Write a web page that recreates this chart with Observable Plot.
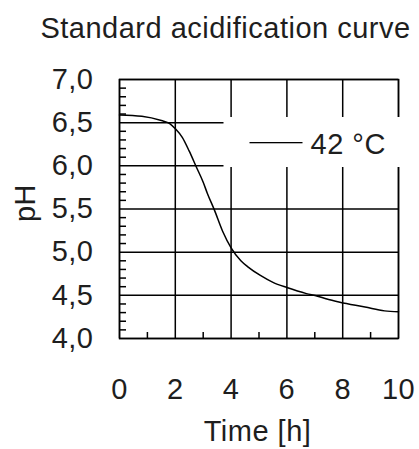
<!DOCTYPE html>
<html>
<head>
<meta charset="utf-8">
<script src="https://cdn.jsdelivr.net/npm/d3@7"></script>
<script src="https://cdn.jsdelivr.net/npm/@observablehq/plot@0.6"></script>
<style>
  html, body { margin: 0; padding: 0; background: #fff; }
</style>
</head>
<body>
<div id="chart"></div>
<script>
const title = "Standard acidification curve";
const xLabel = "Time [h]";
const yLabel = "pH";
const seriesLabel = "42 °C";

const time = [0, 0.8, 1.5, 1.8, 2.0, 2.25, 2.5, 2.75, 3.0, 3.15, 3.4, 3.7, 4.0, 4.35, 4.6, 5.05, 5.5, 6.0, 6.7, 7.1, 7.4, 7.9, 8.8, 9.5, 10];
const ph   = [6.59, 6.575, 6.525, 6.49, 6.43, 6.33, 6.17, 5.99, 5.81, 5.68, 5.49, 5.24, 5.05, 4.90, 4.83, 4.73, 4.65, 4.59, 4.52, 4.49, 4.46, 4.42, 4.365, 4.32, 4.31];

const xTicks = [0, 2, 4, 6, 8, 10];
const xMinor = [1, 3, 5, 7, 9];
const yTicks = [4.0, 4.5, 5.0, 5.5, 6.0, 6.5, 7.0];
const yMinor = [4.1, 4.2, 4.3, 4.4, 4.6, 4.7, 4.8, 4.9, 5.1, 5.2, 5.3, 5.4, 5.6, 5.7, 5.8, 5.9, 6.1, 6.2, 6.3, 6.4, 6.6, 6.7, 6.8, 6.9];

const data = time.map((t, i) => ({t, ph: ph[i]}));

const W = 419, H = 449;
const mL = 119, mR = 21, mT = 79, mB = 111;
const innerW = W - mL - mR, innerH = H - mT - mB;
const font = "'Liberation Sans', Arial, Helvetica, sans-serif";
const fs = 29;
const lw = 1.5;
const txt = "#1e1e1e";

const chart = Plot.plot({
  width: W,
  height: H,
  marginLeft: mL,
  marginRight: mR,
  marginTop: mT,
  marginBottom: mB,
  style: {fontFamily: font, fontSize: fs + "px", color: "#000", background: "#fff", letterSpacing: "0.5px"},
  x: {domain: [0, 10]},
  y: {domain: [4, 7]},
  marks: [
    Plot.gridX(xTicks, {stroke: "#000", strokeOpacity: 1, strokeWidth: lw}),
    Plot.gridY(yTicks, {stroke: "#000", strokeOpacity: 1, strokeWidth: lw}),
    Plot.ruleY(yMinor, {stroke: "#000", strokeWidth: lw, insetRight: innerW - 7}),
    Plot.ruleX(xMinor, {stroke: "#000", strokeWidth: lw, insetTop: innerH - 6}),
    Plot.frame({stroke: "#000", strokeWidth: lw}),
    // legend box
    Plot.frame({fill: "#fff", stroke: "none", insetLeft: 104, insetRight: -5, insetTop: 37.5, insetBottom: 171.5}),
    Plot.frame({fill: "#000", stroke: "none", insetLeft: 130, insetRight: 96, insetTop: 62.5, insetBottom: innerH - 63.8}),
    Plot.text([seriesLabel], {frameAnchor: "top-left", dx: 191, dy: 74, text: d => d, textAnchor: "start", lineAnchor: "bottom", fontSize: fs, fill: txt}),
    Plot.line(data, {x: "t", y: "ph", stroke: "#000", strokeWidth: lw, curve: "monotone-x"}),
    Plot.axisX(xTicks, {tickSize: 0, tickPadding: 40, fontSize: fs, fill: txt, label: null, tickFormat: d => String(d)}),
    Plot.axisY(yTicks, {tickSize: 0, tickPadding: 26, fontSize: fs, fill: txt, label: null, tickFormat: d => d.toFixed(1).replace(".", ",")}),
    Plot.text([yLabel], {frameAnchor: "left", dx: -94, dy: -6, rotate: -90, text: d => d, textAnchor: "middle", lineAnchor: "middle", fontSize: fs, fill: txt}),
    Plot.text([xLabel], {frameAnchor: "bottom", dx: -1.5, dy: 102, text: d => d, textAnchor: "middle", lineAnchor: "bottom", fontSize: fs, fill: txt}),
    Plot.text([title], {frameAnchor: "top", dx: -33.5, dy: -42, text: d => d, textAnchor: "middle", lineAnchor: "bottom", fontSize: fs, fill: txt})
  ]
});
document.getElementById("chart").appendChild(chart);
</script>
</body>
</html>
